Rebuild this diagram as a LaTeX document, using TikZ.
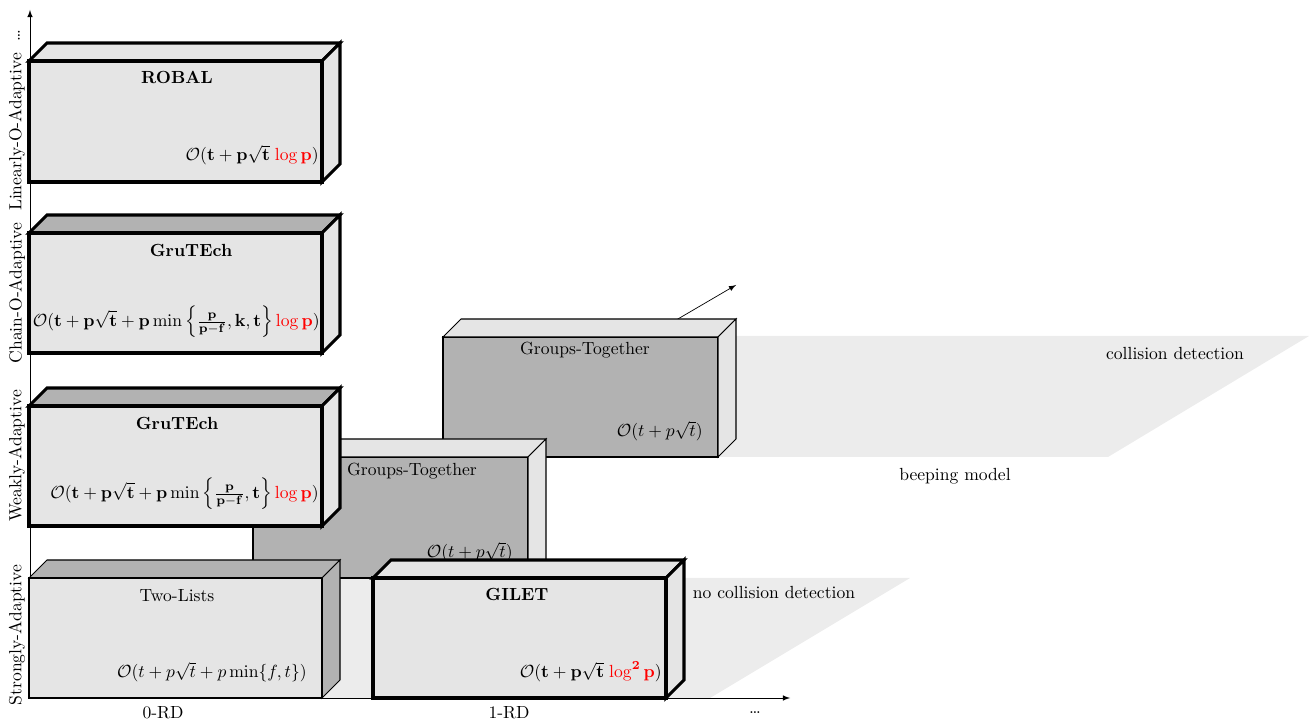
\documentclass[tikz,border=0pt]{standalone}
\usepackage{amsmath}
\begin{document}
\begin{tikzpicture}[x=0.02cm, y=-0.02cm,
    light/.style={fill=gray!20},
    dark/.style={fill=gray!60},
    heavy/.style={line width=1.8pt},
    slim/.style={semithick},
    cost/.style={anchor=east, inner sep=0pt}]

\useasboundingbox (0,0) rectangle (1309,722);

% Axes
\coordinate (o) at (30,698);
\coordinate (xend) at (790,698);
\coordinate (yend) at (30,10);
\coordinate (zend) at (736,285);
\draw[-latex] (o) -- (zend);

% Planes
\fill[gray!15] (30,698) -- (710,698) -- (910,578) -- (230,578) -- cycle;
\fill[gray!15] (443,457) -- (1108,457) -- (1309,336) -- (643,336) -- cycle;
\node (cd) at (1175,354) {collision detection};
\node (beep) at (955,476) {beeping model};
\node (ncd) at (774,593) {no collision detection};

\draw[-latex] (o) -- (xend);
\draw[-latex] (o) -- (yend);

% Axis labels
\node (rd0) at (163,713) {0-RD};
\node (rd1) at (509,713) {1-RD};
\node (xdots) at (755,713) {\dots};
\node[rotate=90] (strong) at (17,635) {Strongly-Adaptive};
\node[rotate=90] (weak) at (17,456) {Weakly-Adaptive};
\node[rotate=90] (chain) at (17,293) {Chain-O-Adaptive};
\node[rotate=90] (linear) at (17,132) {Linearly-O-Adaptive};
\node[rotate=90] (ydots) at (19,36) {\dots};

% Groups-Together (beeping, collision detection)
\draw[slim, dark] (443,337) rectangle (718,457);
\draw[slim, light] (443,337) -- (461,319) -- (736,319) -- (718,337) -- cycle;
\draw[slim, light] (718,337) -- (736,319) -- (736,439) -- (718,457) -- cycle;
\node (gt1) at (585,350) {Groups-Together};
\node[cost] (gt1O) at (703,431) {$\mathcal{O}(t+p\sqrt{t})$};

% Groups-Together (beeping)
\draw[slim, dark] (253,457) rectangle (528,578);
\draw[slim, light] (253,457) -- (271,439) -- (546,439) -- (528,457) -- cycle;
\draw[slim, light] (528,457) -- (546,439) -- (546,560) -- (528,578) -- cycle;
\node (gt2) at (412,471) {Groups-Together};
\node[cost] (gt2O) at (513,552) {$\mathcal{O}(t+p\sqrt{t})$};

% ROBAL
\draw[heavy, light] (29,61) -- (47,43) -- (340,43) -- (322,61) -- cycle;
\draw[heavy, light] (322,61) -- (340,43) -- (340,164) -- (322,182) -- cycle;
\draw[heavy, light] (29,61) rectangle (322,182);
\node (robal) at (177,77) {\textbf{ROBAL}};
\node[cost] (robalO) at (319,155)
    {$\mathcal{O}(\mathbf{t}+\mathbf{p}\sqrt{\mathbf{t}}\;\textcolor{red}{\log\mathbf{p}})$};

% GruTEch (chain)
\draw[heavy, dark] (29,233) -- (47,215) -- (340,215) -- (322,233) -- cycle;
\draw[heavy, light] (322,233) -- (340,215) -- (340,335) -- (322,353) -- cycle;
\draw[heavy, light] (29,233) rectangle (322,353);
\node (gru1) at (191,250) {\textbf{GruTEch}};
\node[cost] (gru1O) at (320,322)
    {$\mathcal{O}(\mathbf{t}+\mathbf{p}\sqrt{\mathbf{t}}+\mathbf{p}\min\left\{\frac{\mathbf{p}}{\mathbf{p}-\mathbf{f}},\mathbf{k},\mathbf{t}\right\}\textcolor{red}{\log\mathbf{p}})$};

% GruTEch (weakly)
\draw[heavy, dark] (29,406) -- (47,388) -- (340,388) -- (322,406) -- cycle;
\draw[heavy, light] (322,406) -- (340,388) -- (340,508) -- (322,526) -- cycle;
\draw[heavy, light] (29,406) rectangle (322,526);
\node (gru2) at (177,423) {\textbf{GruTEch}};
\node[cost] (gru2O) at (319,494)
    {$\mathcal{O}(\mathbf{t}+\mathbf{p}\sqrt{\mathbf{t}}+\mathbf{p}\min\left\{\frac{\mathbf{p}}{\mathbf{p}-\mathbf{f}},\mathbf{t}\right\}\textcolor{red}{\log\mathbf{p}})$};

% Two-Lists
\draw[slim, dark] (29,578) -- (47,560) -- (340,560) -- (322,578) -- cycle;
\draw[slim, dark] (322,578) -- (340,560) -- (340,680) -- (322,698) -- cycle;
\draw[slim, light] (29,578) rectangle (322,698);
\node (two) at (177,596) {Two-Lists};
\node[cost] (twoO) at (307,672) {$\mathcal{O}(t+p\sqrt{t}+p\min\{f,t\})$};

% GILET
\draw[heavy, light] (373,578) -- (391,560) -- (684,560) -- (666,578) -- cycle;
\draw[heavy, light] (666,578) -- (684,560) -- (684,680) -- (666,698) -- cycle;
\draw[heavy, light] (373,578) rectangle (666,698);
\node (gilet) at (517,594) {\textbf{GILET}};
\node[cost] (giletO) at (662,672)
    {$\mathcal{O}(\mathbf{t}+\mathbf{p}\sqrt{\mathbf{t}}\;\textcolor{red}{\log^{\mathbf{2}}\mathbf{p}})$};

\end{tikzpicture}
\end{document}
